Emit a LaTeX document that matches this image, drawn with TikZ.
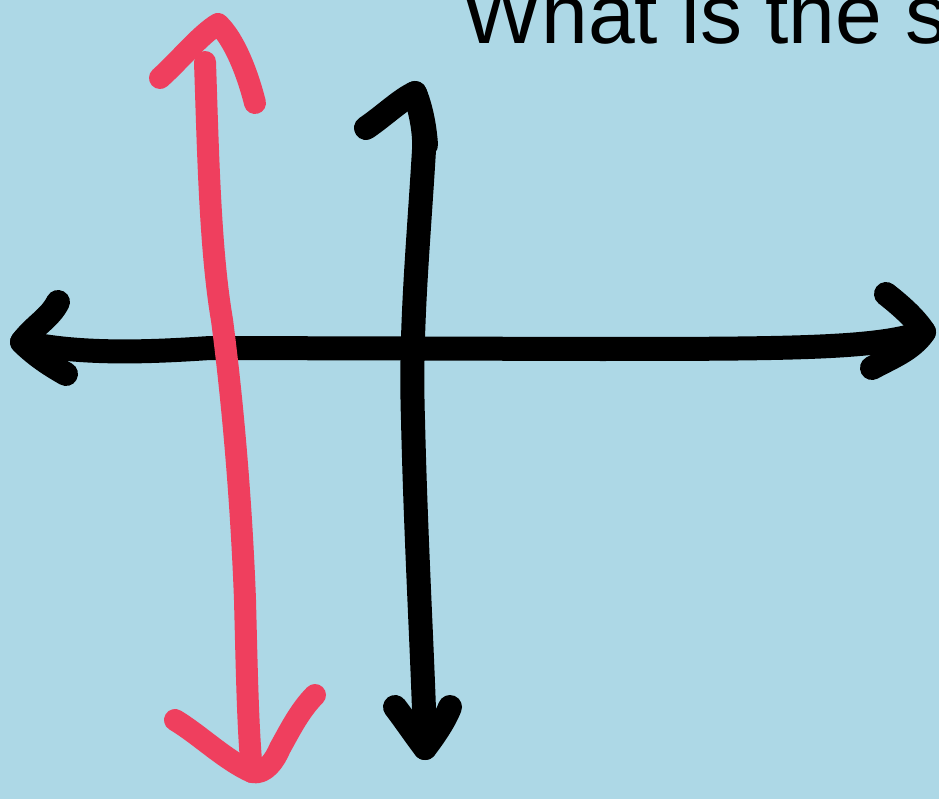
\documentclass[tikz,border=0pt]{standalone}
\usepackage{fontspec}
\setmainfont{Liberation Sans}
\definecolor{bgblue}{HTML}{ADD8E6}
\definecolor{penred}{HTML}{EF3F5E}
\begin{document}
\begin{tikzpicture}[x=1pt,y=-1pt,
  blackpen/.style={draw=black,line width=24pt,line cap=round,line join=round},
  redpen/.style={draw=penred,line width=22pt,line cap=round,line join=round}]
\useasboundingbox (0,0) rectangle (939,799);
\clip (0,0) rectangle (939,799);
\fill[bgblue] (0,0) rectangle (939,799);
\node[anchor=base west,inner sep=0pt,font=\fontsize{84}{90}\selectfont] (title) at (462,44) {What is the s};
% horizontal axis
\coordinate (hl) at (22,342);
\coordinate (hr) at (924,332);
\draw[blackpen] (hl) .. controls (80,355) and (150,352) .. (210,348) -- (600,349) .. controls (800,349) and (880,348) .. (hr);
\draw[blackpen] (58,302) .. controls (50,318) and (35,325) .. (hl) .. controls (35,355) and (50,365) .. (66,374);
\draw[blackpen] (886,294) .. controls (900,305) and (915,318) .. (hr) .. controls (912,350) and (890,358) .. (872,368);
% vertical axis
\coordinate (vt) at (415,93);
\coordinate (vb) at (425,748);
\draw[blackpen] (vt) .. controls (420,110) and (425,130) .. (424,150) .. controls (418,250) and (410,330) .. (413,420) .. controls (416,550) and (424,680) .. (vb);
\draw[blackpen] (366,128) .. controls (385,115) and (400,100) .. (vt) .. controls (422,110) and (425,130) .. (426,145);
\draw[blackpen] (395,707) .. controls (405,720) and (415,735) .. (vb) .. controls (435,735) and (445,720) .. (450,707);
% red line
\coordinate (rt) at (218,24);
\coordinate (rb) at (252,772);
\draw[redpen] (205,62) .. controls (208,150) and (210,250) .. (222,320) .. controls (235,420) and (242,520) .. (245,600) .. controls (247,680) and (248,730) .. (rb);
\draw[redpen] (160,78) .. controls (180,60) and (200,35) .. (rt) .. controls (235,40) and (248,75) .. (255,103);
\draw[redpen] (175,720) .. controls (200,735) and (225,760) .. (rb) .. controls (265,775) and (275,760) .. (280,748) .. controls (290,730) and (300,710) .. (315,695);
\end{tikzpicture}
\end{document}
